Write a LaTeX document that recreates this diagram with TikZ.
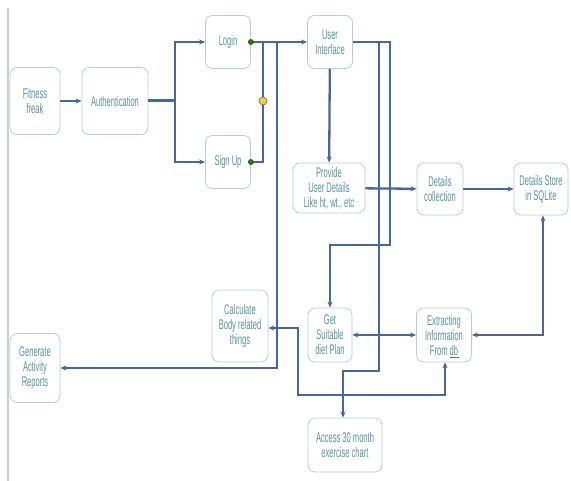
\documentclass[tikz,border=0pt]{standalone}
\usepackage{fontspec}
\newfontfamily\nodefont[FakeStretch=0.54]{Liberation Sans}
\usetikzlibrary{arrows.meta}
\definecolor{linec}{RGB}{72,102,150}
\definecolor{boxc}{RGB}{185,205,212}
\definecolor{txtc}{RGB}{88,148,160}
\definecolor{dotg}{RGB}{50,110,20}
\definecolor{doty}{RGB}{235,210,60}
\tikzset{
  box/.style={draw=boxc,line width=0.8pt,rounded corners=7pt,fill=white,
    text=txtc,align=center,inner sep=1pt,
    font=\nodefont\fontsize{14}{15}\selectfont},
  conn/.style={draw=linec,line width=2.3pt},
  arr/.style={conn,-{Stealth[length=6pt,width=5pt]}},
  barr/.style={conn,{Stealth[length=6pt,width=5pt]}-{Stealth[length=6pt,width=5pt]}},
}
\begin{document}
\begin{tikzpicture}[x=1pt,y=-1pt]
\useasboundingbox[fill=white] (0,0) rectangle (571,481);
\draw[gray!40,line width=1.5pt] (8,8) -- (8,481);

\node[box,minimum width=50,minimum height=67] (fit) at (35,101) {Fitness\\freak};
\node[box,minimum width=66,minimum height=67] (auth) at (115,101) {Authentication};
\node[box,minimum width=45,minimum height=53] (login) at (228,42) {Login};
\node[box,minimum width=45,minimum height=53] (sign) at (228,162) {Sign Up};
\node[box,minimum width=45,minimum height=53] (ui) at (330,42) {User\\Interface};
\node[box,minimum width=72,minimum height=50] (prov) at (329,188) {Provide\\User Details\\Like ht, wt., etc};
\node[box,minimum width=46,minimum height=52] (dcol) at (440,189) {Details\\collection};
\node[box,minimum width=54,minimum height=52] (store) at (541,189) {Details Store\\in SQLite};
\node[box,minimum width=44,minimum height=54] (diet) at (330,335) {Get\\Suitable\\diet Plan};
\node[box,minimum width=55,minimum height=54] (ext) at (444,335) {Extracting\\Information\\From db};
\node[box,minimum width=56,minimum height=72] (calc) at (240,326) {Calculate\\Body related\\things};
\node[box,minimum width=50,minimum height=69] (gen) at (35,368) {Generate\\Activity\\Reports};
\node[box,minimum width=74,minimum height=54] (acc) at (345,445) {Access 30 month\\exercise chart};

\coordinate (ab) at (175,101);
\coordinate (lj) at (263,42);
\coordinate (sj) at (263,162);
\coordinate (gj) at (277,42);
\coordinate (gb) at (277,368);
\coordinate (u1) at (390,42);
\coordinate (u1b) at (390,245);
\coordinate (u1c) at (330,245);
\coordinate (u2) at (379,42);
\coordinate (u2b) at (379,371);
\coordinate (u2c) at (343,371);
\coordinate (sc) at (543,335);
\coordinate (c1) at (298,328);
\coordinate (c2) at (298,395);
\coordinate (c3) at (445,395);

\draw[arr] (fit) -- (auth);
\draw[conn,line width=3pt] (auth.east) -- (ab);
\draw[arr] (ab) |- (login.west);
\draw[arr] (ab) |- (sign.west);
\draw[arr] (login.east) -- (ui.west);
\draw[conn] (sign.east) -- (sj) -- (lj);
\draw[arr] (gj) -- (gb) -- (gen.east);
\draw[arr] (ui.east) -- (u1) -- (u1b) -- (u1c) -- (diet.north);
\draw[arr] (u2) -- (u2b) -- (u2c) -- (acc.north -| u2c);
\draw[arr] (ui) -- (prov);
\draw[arr] (prov) -- (dcol);
\draw[arr] (dcol) -- (store);
\draw[barr] (diet) -- (ext);
\draw[barr] (ext.east) -- (sc) -- (store.south -| sc);
\draw[barr] (calc.east |- c1) -- (c1) -- (c2) -- (c3) -- (ext.south -| c3);

\fill[dotg] (login.east) circle (3);
\fill[dotg] (sign.east) circle (3);
\draw[fill=doty,draw=black!60,line width=0.6pt] (263,101) circle (4);
\draw[red!80,line width=0.6pt] (450,357.5) -- (459,357.5);
\end{tikzpicture}
\end{document}
